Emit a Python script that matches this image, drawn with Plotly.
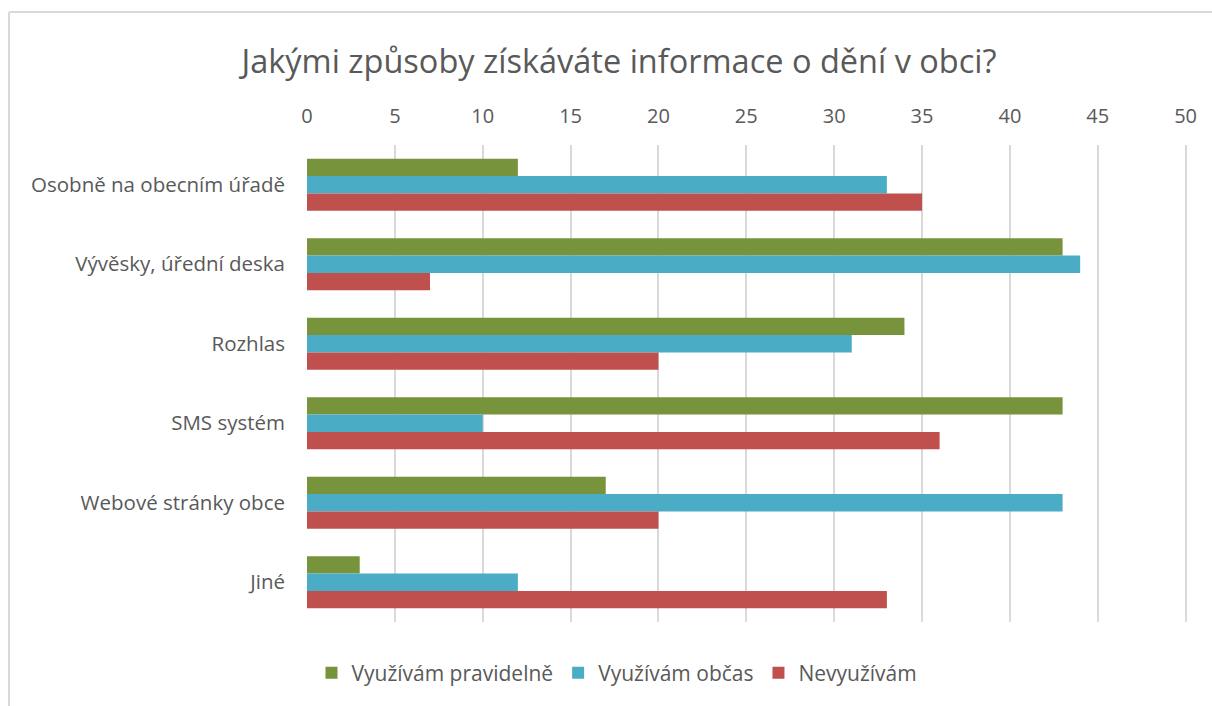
import plotly.graph_objects as go

categories = ["Osobně na obecním úřadě", "Vývěsky, úřední deska", "Rozhlas",
              "SMS systém", "Webové stránky obce", "Jiné"]
pravidelne = [12, 43, 34, 43, 17, 3]
obcas = [33, 44, 31, 10, 43, 12]
nevyuzivam = [35, 7, 20, 36, 20, 33]
series_names = ["Využívám pravidelně", "Využívám občas", "Nevyužívám"]
colors = ["#77933C", "#4BACC6", "#C0504D"]
x_ticks = [0, 5, 10, 15, 20, 25, 30, 35, 40, 45, 50]

FONT = "Open Sans"
TXT = "#595959"

fig = go.Figure()
for name, vals, col in zip(series_names, [pravidelne, obcas, nevyuzivam], colors):
    fig.add_trace(go.Bar(y=categories, x=vals, name=name, orientation="h",
                         marker=dict(color=col, line=dict(width=0))))

L, R, T, B = 307, 22, 145, 84
W, H = 1212, 706
pw, ph = W - L - R, H - T - B

def px(x):
    return (x - L) / pw

def py(y):
    return (H - B - y) / ph

border = "#D9D9D9"
fig.add_shape(type="line", xref="paper", yref="paper", x0=px(9), x1=px(1215),
              y0=py(12), y1=py(12), line=dict(color=border, width=2))
fig.add_shape(type="line", xref="paper", yref="paper", x0=px(9), x1=px(9),
              y0=py(12), y1=py(710), line=dict(color=border, width=2))

fig.update_layout(
    width=W, height=H,
    margin=dict(l=L, r=R, t=T, b=B),
    paper_bgcolor="white", plot_bgcolor="white",
    barmode="group", bargap=0.345, bargroupgap=0,
    font=dict(family=FONT, color=TXT, size=16),
    title=dict(text="Jakými způsoby získáváte informace o dění v obci?",
               x=619 / W, xanchor="center", y=1 - 62 / H, yanchor="middle",
               font=dict(family=FONT, size=32.5, color=TXT)),
    xaxis=dict(side="top", range=[0, 50.25], tickvals=x_ticks, showgrid=True,
               gridcolor="#D9D9D9", gridwidth=2, zeroline=False, showline=False,
               ticklabelstandoff=17, tickfont=dict(size=20, color=TXT), fixedrange=True),
    yaxis=dict(autorange="reversed", showgrid=False, showline=False, zeroline=False,
               ticklabelstandoff=21, tickfont=dict(size=20.5, color=TXT)),
    legend=dict(orientation="h", x=px(617), xanchor="center", y=py(673), yanchor="middle",
                font=dict(size=21, color=TXT), traceorder="normal"),
    showlegend=True,
)

fig.write_html("out.html", config={"displayModeBar": False},
               post_script="document.body.style.margin='0';")
